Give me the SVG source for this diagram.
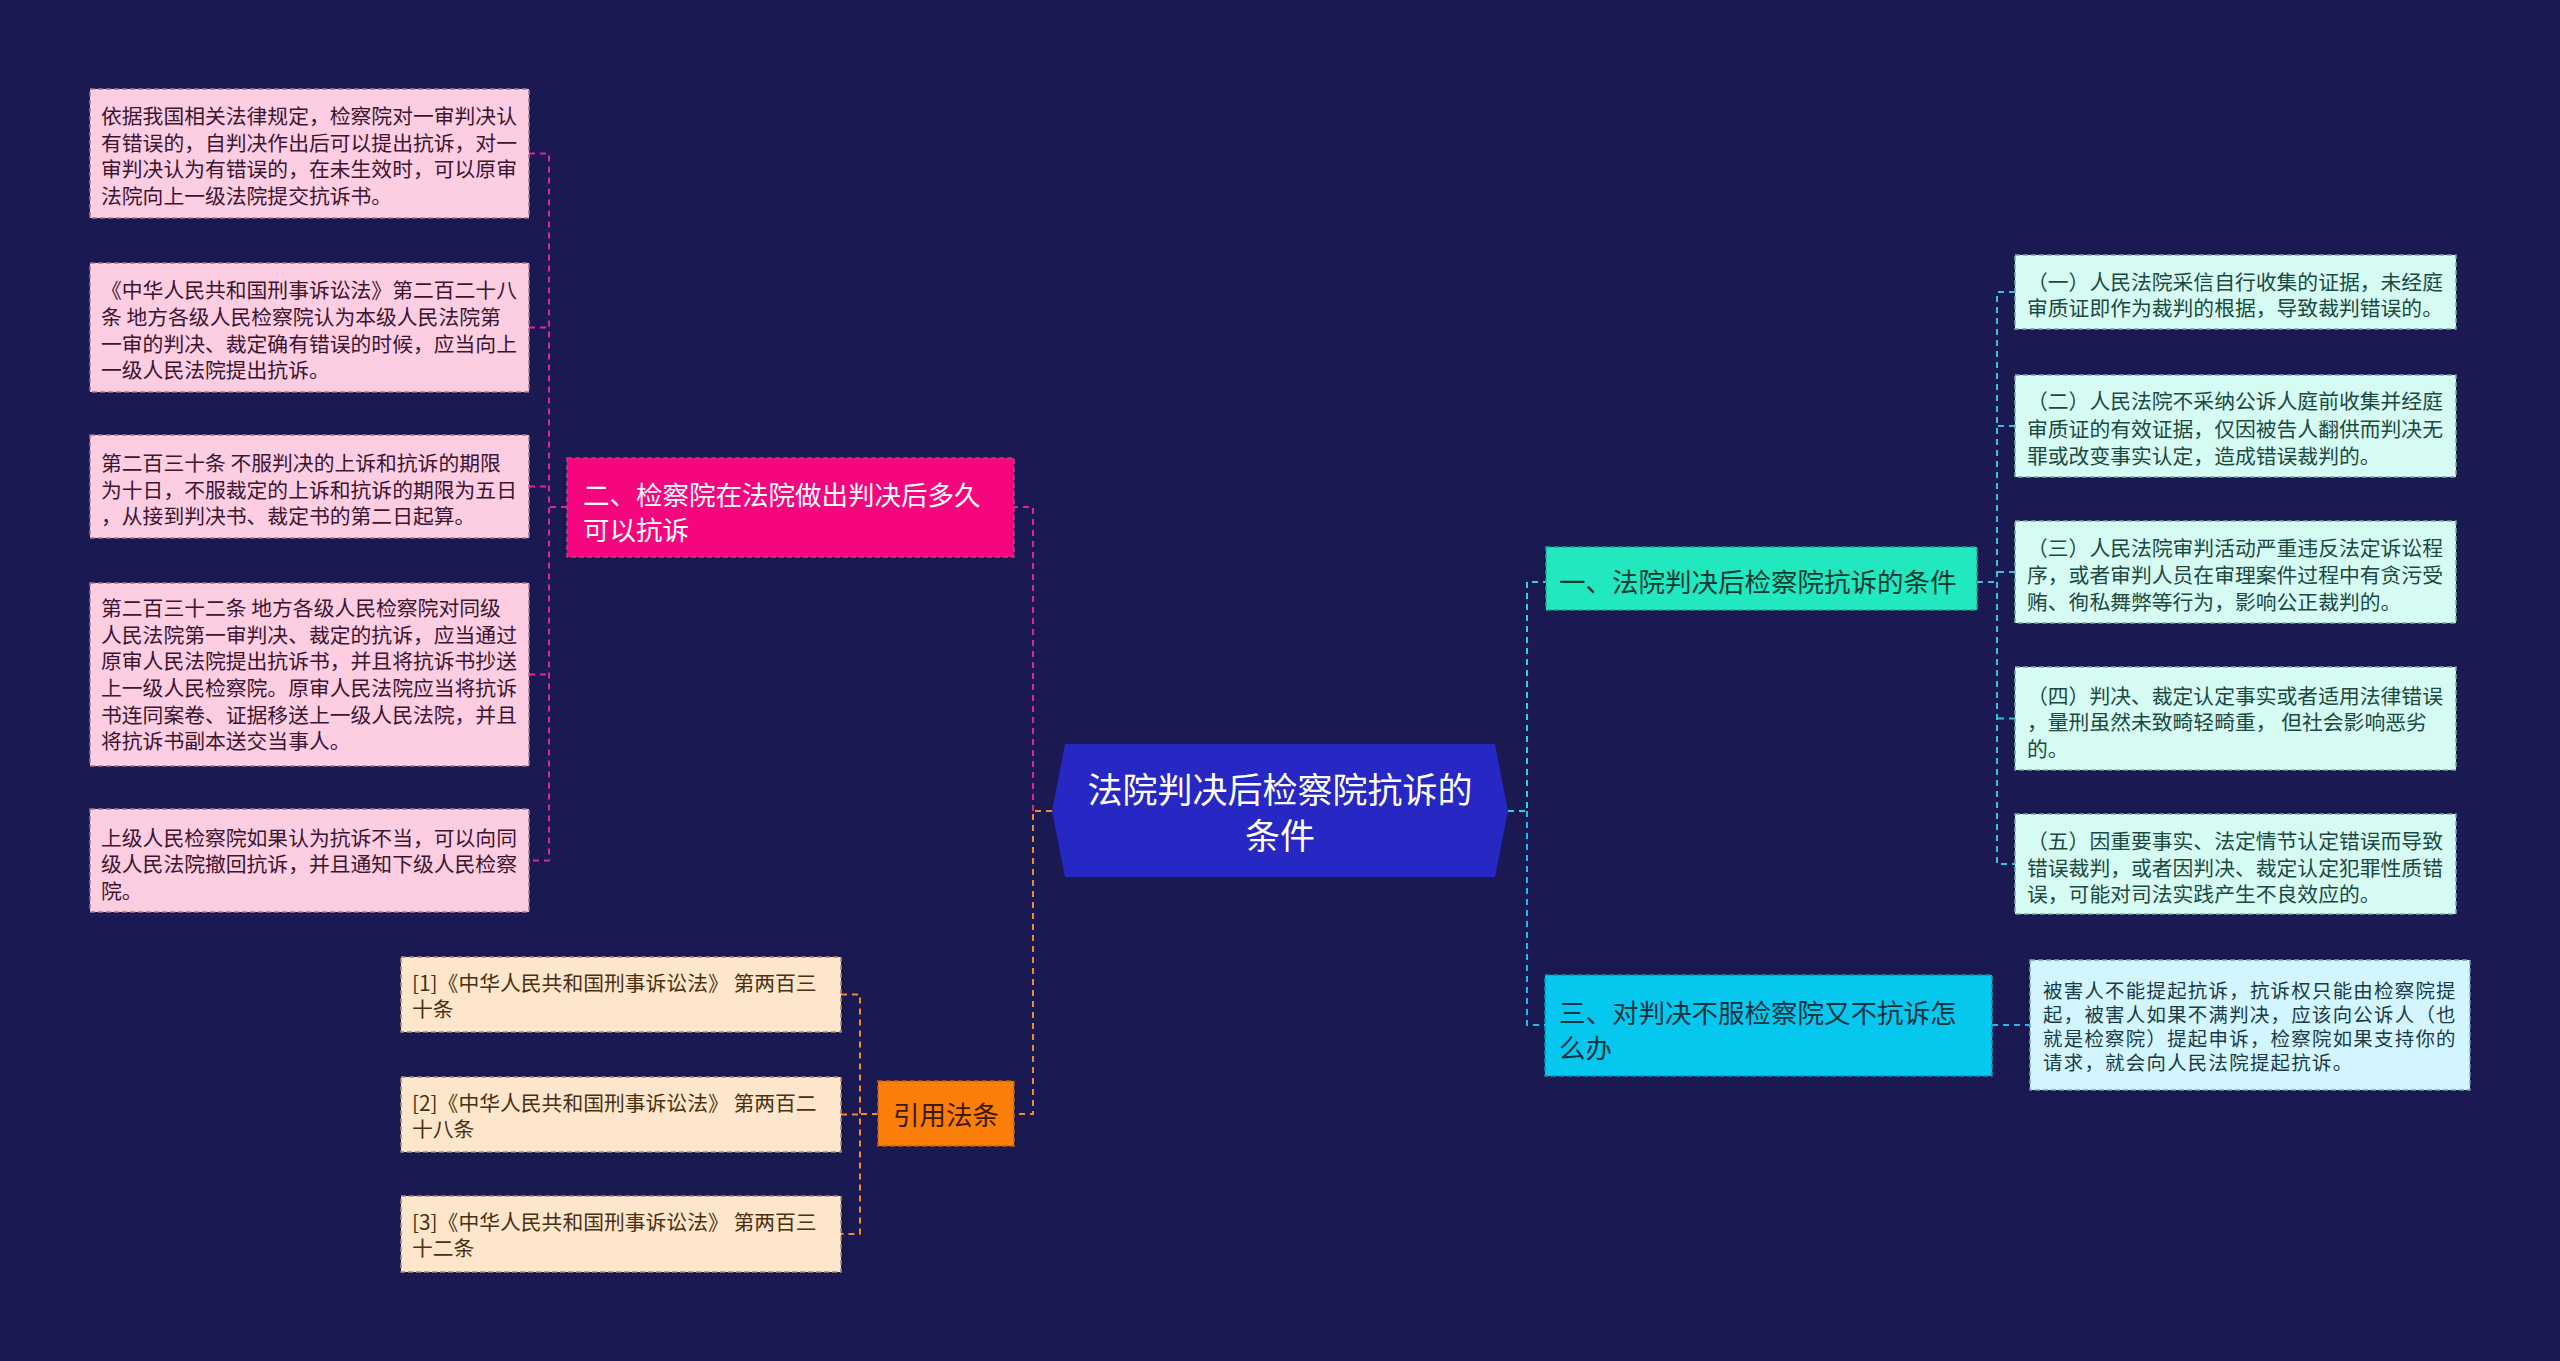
<svg xmlns="http://www.w3.org/2000/svg" width="2560" height="1361" viewBox="0 0 2560 1361">
<style>
text{font-family:"Noto Sans CJK SC","Noto Sans",sans-serif;dominant-baseline:central}
.leaf{font-size:20.8px}
.n1{font-size:26.5px}
.box{stroke-width:1.5;stroke-dasharray:5 3}
.pk{fill:#fdcde2;stroke:#9c7a96}
.pkt{fill:#3c1530}
.rf{fill:#fde6cc;stroke:#a08a70}
.rft{fill:#4a3010}
.tl{fill:#d5fbf2;stroke:#7aa8a0}
.tlt{fill:#1c4a42}
.cy{fill:#d3f5fd;stroke:#7aa0b0}
.cyt{fill:#1a3a4a;font-size:19.4px;letter-spacing:1.3px}
.c{fill:none;stroke-width:2;stroke-dasharray:6 5}
.cp{stroke:#e0288a}
.co{stroke:#f08a30}
.ct{stroke:#2ed8c8}
.cc{stroke:#20bce8}
.cl{stroke:#3ac0d8}
</style>
<rect x="0" y="0" width="2560" height="1361" fill="#1a1951"/>
<g id="connectors">
  <path class="c co" d="M1052 811H1033V1114H1014"/>
  <path class="c cp" d="M1033 811V507H1014"/>
  <path class="c cp" d="M567 507H549M529 153.5H549V860.5H529M529 327.5H549M529 486.5H549M529 674.5H549"/>
  <path class="c co" d="M878 1114H860M841 994.5H860V1234H841M841 1114.5H860"/>
  <path class="c ct" d="M1508 811H1527V582H1546"/>
  <path class="c cc" d="M1527 811V1025H1545"/>
  <path class="c cc" d="M1992 1025H2030"/>
  <path class="c cl" d="M1977 582H1997M2015 292H1997V864H2015M2015 426H1997M2015 572H1997M2015 718.5H1997"/>
</g>
<g id="root">
  <polygon points="1052,811 1065,744 1495,744 1508,811 1495,877 1065,877" fill="#2727c3"/>
  <text x="1280" y="787" font-size="35" fill="#ffffff" text-anchor="middle">法院判决后检察院抗诉的</text>
  <text x="1280" y="833" font-size="35" fill="#ffffff" text-anchor="middle">条件</text>
</g>
<g id="node-2">
  <rect x="567" y="458" width="447" height="99" fill="#f5057e" stroke="#c0407a" class="box"/>
  <text class="n1" x="583" y="493" fill="#ffffff">二、检察院在法院做出判决后多久</text>
  <text class="n1" x="583" y="528" fill="#ffffff">可以抗诉</text>
</g>
<g id="leaf-2-1">
  <rect class="box pk" x="90" y="89" width="439" height="129"/>
  <text class="leaf pkt" x="101" y="115">依据我国相关法律规定，检察院对一审判决认</text>
  <text class="leaf pkt" x="101" y="141.7">有错误的，自判决作出后可以提出抗诉，对一</text>
  <text class="leaf pkt" x="101" y="168.3">审判决认为有错误的，在未生效时，可以原审</text>
  <text class="leaf pkt" x="101" y="195">法院向上一级法院提交抗诉书。</text>
</g>
<g id="leaf-2-2">
  <rect class="box pk" x="90" y="263" width="439" height="129"/>
  <text class="leaf pkt" x="101" y="289">《中华人民共和国刑事诉讼法》第二百二十八</text>
  <text class="leaf pkt" x="101" y="316">条 地方各级人民检察院认为本级人民法院第</text>
  <text class="leaf pkt" x="101" y="343">一审的判决、裁定确有错误的时候，应当向上</text>
  <text class="leaf pkt" x="101" y="369">一级人民法院提出抗诉。</text>
</g>
<g id="leaf-2-3">
  <rect class="box pk" x="90" y="435" width="439" height="103"/>
  <text class="leaf pkt" x="101" y="462">第二百三十条 不服判决的上诉和抗诉的期限</text>
  <text class="leaf pkt" x="101" y="489">为十日，不服裁定的上诉和抗诉的期限为五日</text>
  <text class="leaf pkt" x="101" y="515">，从接到判决书、裁定书的第二日起算。</text>
</g>
<g id="leaf-2-4">
  <rect class="box pk" x="90" y="583" width="439" height="183"/>
  <text class="leaf pkt" x="101" y="607">第二百三十二条 地方各级人民检察院对同级</text>
  <text class="leaf pkt" x="101" y="633.5">人民法院第一审判决、裁定的抗诉，应当通过</text>
  <text class="leaf pkt" x="101" y="660">原审人民法院提出抗诉书，并且将抗诉书抄送</text>
  <text class="leaf pkt" x="101" y="687">上一级人民检察院。原审人民法院应当将抗诉</text>
  <text class="leaf pkt" x="101" y="713.5">书连同案卷、证据移送上一级人民法院，并且</text>
  <text class="leaf pkt" x="101" y="740">将抗诉书副本送交当事人。</text>
</g>
<g id="leaf-2-5">
  <rect class="box pk" x="90" y="809" width="439" height="103"/>
  <text class="leaf pkt" x="101" y="837">上级人民检察院如果认为抗诉不当，可以向同</text>
  <text class="leaf pkt" x="101" y="863">级人民法院撤回抗诉，并且通知下级人民检察</text>
  <text class="leaf pkt" x="101" y="890">院。</text>
</g>
<g id="node-ref">
  <rect x="878" y="1081" width="136" height="65" fill="#fb7d0a" stroke="#c06010" class="box"/>
  <text class="n1" x="946" y="1113.5" fill="#3a1a00" text-anchor="middle">引用法条</text>
</g>
<g id="ref-1">
  <rect class="box rf" x="401" y="957" width="440" height="75"/>
  <text class="leaf rft" x="412" y="982">[1]《中华人民共和国刑事诉讼法》 第两百三</text>
  <text class="leaf rft" x="412" y="1008">十条</text>
</g>
<g id="ref-2">
  <rect class="box rf" x="401" y="1077" width="440" height="75"/>
  <text class="leaf rft" x="412" y="1102">[2]《中华人民共和国刑事诉讼法》 第两百二</text>
  <text class="leaf rft" x="412" y="1128">十八条</text>
</g>
<g id="ref-3">
  <rect class="box rf" x="401" y="1196" width="440" height="76"/>
  <text class="leaf rft" x="412" y="1221">[3]《中华人民共和国刑事诉讼法》 第两百三</text>
  <text class="leaf rft" x="412" y="1247">十二条</text>
</g>
<g id="node-1">
  <rect x="1546" y="547" width="431" height="63" fill="#22e8bf" stroke="#20a890" class="box"/>
  <text class="n1" x="1559" y="580" fill="#0d3b33">一、法院判决后检察院抗诉的条件</text>
</g>
<g id="leaf-1-1">
  <rect class="box tl" x="2015" y="255" width="441" height="74"/>
  <text class="leaf tlt" x="2027" y="281">（一）人民法院采信自行收集的证据，未经庭</text>
  <text class="leaf tlt" x="2027" y="307">审质证即作为裁判的根据，导致裁判错误的。</text>
</g>
<g id="leaf-1-2">
  <rect class="box tl" x="2015" y="375" width="441" height="102"/>
  <text class="leaf tlt" x="2027" y="400">（二）人民法院不采纳公诉人庭前收集并经庭</text>
  <text class="leaf tlt" x="2027" y="427.5">审质证的有效证据，仅因被告人翻供而判决无</text>
  <text class="leaf tlt" x="2027" y="455">罪或改变事实认定，造成错误裁判的。</text>
</g>
<g id="leaf-1-3">
  <rect class="box tl" x="2015" y="521" width="441" height="102"/>
  <text class="leaf tlt" x="2027" y="547">（三）人民法院审判活动严重违反法定诉讼程</text>
  <text class="leaf tlt" x="2027" y="574">序，或者审判人员在审理案件过程中有贪污受</text>
  <text class="leaf tlt" x="2027" y="601">贿、徇私舞弊等行为，影响公正裁判的。</text>
</g>
<g id="leaf-1-4">
  <rect class="box tl" x="2015" y="667" width="441" height="103"/>
  <text class="leaf tlt" x="2027" y="695">（四）判决、裁定认定事实或者适用法律错误</text>
  <text class="leaf tlt" x="2027" y="721">，量刑虽然未致畸轻畸重， 但社会影响恶劣</text>
  <text class="leaf tlt" x="2027" y="748">的。</text>
</g>
<g id="leaf-1-5">
  <rect class="box tl" x="2015" y="814" width="441" height="100"/>
  <text class="leaf tlt" x="2027" y="840">（五）因重要事实、法定情节认定错误而导致</text>
  <text class="leaf tlt" x="2027" y="867">错误裁判，或者因判决、裁定认定犯罪性质错</text>
  <text class="leaf tlt" x="2027" y="893">误，可能对司法实践产生不良效应的。</text>
</g>
<g id="node-3">
  <rect x="1545" y="975" width="447" height="101" fill="#06c8ef" stroke="#1090b8" class="box"/>
  <text class="n1" x="1559" y="1011" fill="#0b3340">三、对判决不服检察院又不抗诉怎</text>
  <text class="n1" x="1559" y="1046" fill="#0b3340">么办</text>
</g>
<g id="leaf-3-1">
  <rect class="box cy" x="2030" y="960" width="440" height="130"/>
  <text class="cyt" x="2043" y="989">被害人不能提起抗诉，抗诉权只能由检察院提</text>
  <text class="cyt" x="2043" y="1013">起，被害人如果不满判决，应该向公诉人（也</text>
  <text class="cyt" x="2043" y="1037">就是检察院）提起申诉，检察院如果支持你的</text>
  <text class="cyt" x="2043" y="1061">请求，就会向人民法院提起抗诉。</text>
</g>
</svg>
